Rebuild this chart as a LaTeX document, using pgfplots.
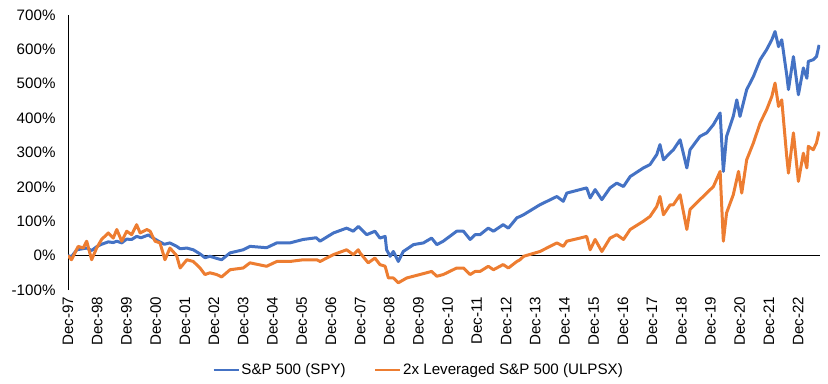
\documentclass[border=0pt]{standalone}
\usepackage{pgfplots}
\pgfplotsset{compat=1.18}
\usetikzlibrary{calc}
\usepackage{fontspec}
\setmainfont{Liberation Sans}
\definecolor{spyblue}{HTML}{4472C4}
\definecolor{ulorange}{HTML}{ED7D31}
\begin{document}
\begin{tikzpicture}[font=\fontsize{15.2}{18}\selectfont]
\begin{axis}[
  name=main,
  scale only axis,
  width=752bp, height=275bp,
  xmin=0, xmax=25.75,
  ymin=-100, ymax=700,
  axis x line*=bottom,
  x axis line style={draw=none},
  axis y line*=left,
  y axis line style={-, black, line width=0.8bp},
  major tick length=0pt,
  xtick={0,1,...,25},
  xticklabels={Dec-97,Dec-98,Dec-99,Dec-00,Dec-01,Dec-02,Dec-03,Dec-04,Dec-05,Dec-06,Dec-07,Dec-08,Dec-09,Dec-10,Dec-11,Dec-12,Dec-13,Dec-14,Dec-15,Dec-16,Dec-17,Dec-18,Dec-19,Dec-20,Dec-21,Dec-22},
  xticklabel style={yshift=-3.5bp, rotate=90, anchor=east},
  ytick={-100,0,100,200,300,400,500,600,700},
  yticklabels={-100\%,0\%,100\%,200\%,300\%,400\%,500\%,600\%,700\%},
  yticklabel style={xshift=-9bp},
  legend columns=2,
  legend style={at={(0.466,-0.29)}, anchor=center, draw=none, fill=none,
    nodes={inner xsep=1.5bp},
    /tikz/every even column/.append style={column sep=27bp},
    font=\fontsize{15.2}{18}\selectfont},
  legend image code/.code={\draw[#1, line width=2.4bp] (0,0) -- (25bp,0);},
  every axis plot/.append style={line join=round},
]
\addplot[black, line width=0.8bp, forget plot] coordinates {(0,0) (25.75,0)};
\addplot[spyblue, line width=3bp] coordinates {
(0,0) (0.12,-3) (0.3,17) (0.5,20) (0.64,22) (0.81,15) (1.0,27) (1.15,33) (1.38,40) (1.55,38) (1.67,42) (1.84,37) (2.01,48) (2.18,47) (2.35,56) (2.5,52) (2.75,60) (2.9,52) (3.1,42) (3.3,33) (3.49,37) (3.72,27) (3.84,20) (4.07,22) (4.29,17) (4.52,5) (4.69,-6) (4.86,-2) (5.09,-8) (5.26,-12) (5.55,8) (6.0,17) (6.23,27) (6.8,23) (7.15,37) (7.6,37) (8.05,47) (8.5,52) (8.63,42) (9.09,66) (9.54,80) (9.77,71) (9.94,85) (10.0,80) (10.23,61) (10.51,71) (10.68,51) (10.86,56) (10.91,17) (11.03,-2) (11.14,12) (11.31,-17) (11.48,12) (11.83,32) (12.17,37) (12.45,51) (12.63,32) (12.85,42) (13.31,71) (13.54,71) (13.77,47) (13.94,61) (14.11,61) (14.39,80) (14.57,71) (14.9,90) (15.08,80) (15.37,110) (15.48,114) (15.6,119) (16.16,148) (16.74,172) (16.96,158) (17.08,182) (17.53,192) (17.76,197) (17.88,168) (18.05,192) (18.28,163) (18.56,197) (18.79,211) (19.02,201) (19.25,230) (19.7,255) (19.93,265) (20.16,294) (20.27,323) (20.39,279) (20.62,299) (20.73,308) (20.96,337) (21.19,255) (21.3,308) (21.64,347) (21.87,357) (22.1,381) (22.33,415) (22.44,245) (22.55,347) (22.78,405) (22.9,453) (23.01,405) (23.24,483) (23.47,521) (23.7,570) (23.92,599) (24.1,628) (24.21,652) (24.33,608) (24.44,628) (24.61,526) (24.67,483) (24.84,579) (25.01,468) (25.18,546) (25.3,516) (25.35,565) (25.52,570) (25.63,579) (25.72,613)
};
\addlegendentry{S\&P 500 (SPY)}
\addplot[ulorange, line width=3bp] coordinates {
(0,0) (0.12,-12) (0.35,27) (0.52,22) (0.64,42) (0.81,-12) (0.98,22) (1.15,47) (1.38,66) (1.55,51) (1.67,76) (1.84,42) (2.01,71) (2.18,61) (2.35,90) (2.47,66) (2.7,76) (2.81,71) (2.98,42) (3.15,37) (3.32,-12) (3.49,22) (3.72,0) (3.84,-36) (4.07,-12) (4.29,-17) (4.52,-36) (4.69,-55) (4.86,-50) (5.09,-55) (5.26,-62) (5.55,-41) (6.0,-36) (6.23,-21) (6.8,-31) (7.15,-17) (7.6,-17) (8.06,-12) (8.52,-12) (8.63,-17) (9.09,3) (9.54,17) (9.77,3) (9.94,17) (10.0,8) (10.28,-21) (10.51,-7) (10.68,-26) (10.86,-31) (10.97,-65) (11.14,-65) (11.31,-79) (11.6,-65) (12.05,-55) (12.45,-46) (12.63,-60) (12.85,-55) (13.31,-36) (13.54,-36) (13.77,-55) (13.94,-46) (14.11,-46) (14.39,-31) (14.57,-41) (14.9,-26) (15.08,-36) (15.37,-17) (15.48,-12) (15.6,-2) (16.16,12) (16.74,37) (16.96,27) (17.08,42) (17.53,51) (17.76,56) (17.88,17) (18.05,47) (18.28,12) (18.56,51) (18.79,61) (19.02,47) (19.25,76) (19.7,100) (19.93,114) (20.16,143) (20.27,172) (20.39,119) (20.62,148) (20.73,148) (20.96,177) (21.19,76) (21.3,134) (21.64,163) (21.87,182) (22.1,201) (22.33,245) (22.44,42) (22.55,124) (22.78,177) (22.96,245) (23.07,182) (23.24,279) (23.47,328) (23.7,386) (23.92,424) (24.1,463) (24.21,502) (24.33,434) (24.44,453) (24.61,289) (24.67,240) (24.84,357) (25.01,216) (25.18,298) (25.3,255) (25.35,318) (25.52,308) (25.63,328) (25.72,361)
};
\addlegendentry{2x Leveraged S\&P 500 (ULPSX)}
\end{axis}
\pgfresetboundingbox
\path[use as bounding box] ($(main.south west)+(-68bp,-94bp)$) rectangle ($(main.south west)+(760bp,290bp)$);
\end{tikzpicture}
\end{document}
